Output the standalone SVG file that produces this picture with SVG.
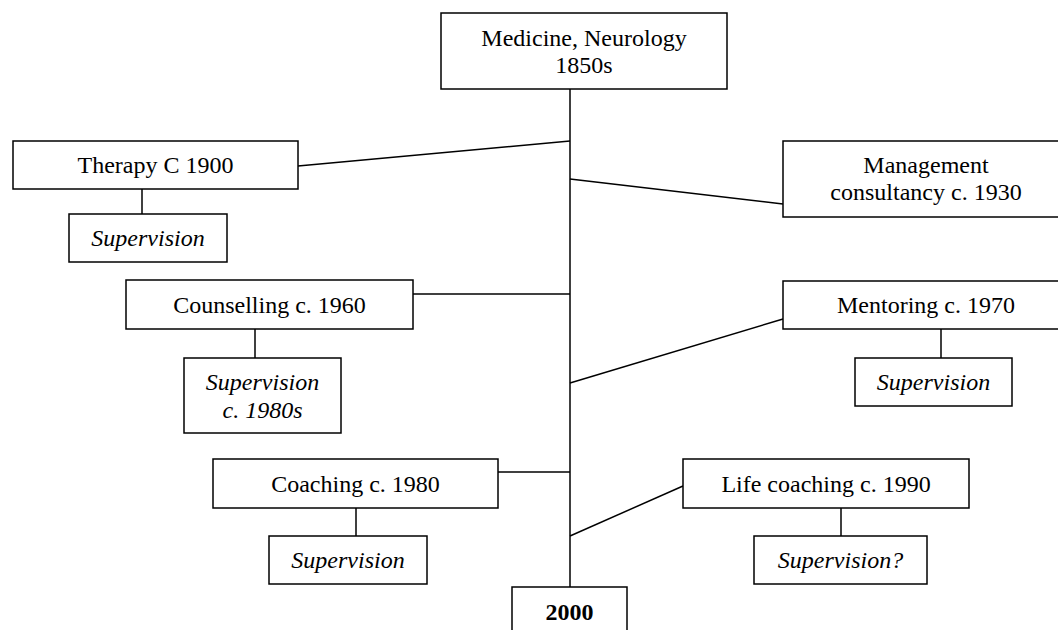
<svg xmlns="http://www.w3.org/2000/svg" width="1058" height="630" viewBox="0 0 1058 630">
<style>
  .box { fill: #ffffff; stroke: #000000; stroke-width: 1.5; }
  .ln { stroke: #000000; stroke-width: 1.5; fill: none; }
  text { font-family: "Liberation Serif", "Times New Roman", serif; font-size: 24px; fill: #000000; text-anchor: middle; }
  .it { font-style: italic; }
  .bd { font-weight: bold; }
</style>
<rect x="0" y="0" width="1058" height="630" fill="#ffffff"/>
<g id="connectors">
  <line class="ln" x1="570" y1="89" x2="570" y2="587"/>
  <line class="ln" x1="298" y1="166" x2="570" y2="141"/>
  <line class="ln" x1="570" y1="179" x2="783" y2="204"/>
  <line class="ln" x1="413" y1="294" x2="570" y2="294"/>
  <line class="ln" x1="570" y1="383" x2="783" y2="319"/>
  <line class="ln" x1="498" y1="472" x2="570" y2="472"/>
  <line class="ln" x1="570" y1="536" x2="683" y2="486"/>
  <line class="ln" x1="142" y1="189" x2="142" y2="214"/>
  <line class="ln" x1="255" y1="329" x2="255" y2="358"/>
  <line class="ln" x1="941" y1="329" x2="941" y2="358"/>
  <line class="ln" x1="356" y1="508" x2="356" y2="536"/>
  <line class="ln" x1="841" y1="508" x2="841" y2="536"/>
</g>
<g id="medicine">
  <rect class="box" x="441" y="13" width="286" height="76"/>
  <text x="584" y="46">Medicine, Neurology</text>
  <text x="584" y="73">1850s</text>
</g>
<g id="therapy">
  <rect class="box" x="13" y="141" width="285" height="48"/>
  <text x="155.5" y="173">Therapy C 1900</text>
</g>
<g id="therapy-supervision">
  <rect class="box" x="69" y="214" width="158" height="48"/>
  <text class="it" x="148" y="246">Supervision</text>
</g>
<g id="management">
  <rect class="box" x="783" y="141" width="286" height="76"/>
  <text x="926" y="173">Management</text>
  <text x="926" y="200">consultancy c. 1930</text>
</g>
<g id="counselling">
  <rect class="box" x="126" y="280" width="287" height="49"/>
  <text x="269.5" y="313">Counselling c. 1960</text>
</g>
<g id="counselling-supervision">
  <rect class="box" x="184" y="358" width="157" height="75"/>
  <text class="it" x="262.5" y="390">Supervision</text>
  <text class="it" x="262.5" y="418">c. 1980s</text>
</g>
<g id="mentoring">
  <rect class="box" x="783" y="281" width="286" height="48"/>
  <text x="926" y="313">Mentoring c. 1970</text>
</g>
<g id="mentoring-supervision">
  <rect class="box" x="855" y="358" width="157" height="48"/>
  <text class="it" x="933.5" y="390">Supervision</text>
</g>
<g id="coaching">
  <rect class="box" x="213" y="459" width="285" height="49"/>
  <text x="355.5" y="492">Coaching c. 1980</text>
</g>
<g id="coaching-supervision">
  <rect class="box" x="269" y="536" width="158" height="48"/>
  <text class="it" x="348" y="568">Supervision</text>
</g>
<g id="life-coaching">
  <rect class="box" x="683" y="459" width="286" height="49"/>
  <text x="826" y="492">Life coaching c. 1990</text>
</g>
<g id="life-coaching-supervision">
  <rect class="box" x="754" y="536" width="173" height="48"/>
  <text class="it" x="840.5" y="568">Supervision?</text>
</g>
<g id="year-2000">
  <rect class="box" x="512" y="587" width="115" height="60"/>
  <text class="bd" x="569.5" y="620">2000</text>
</g>
</svg>
